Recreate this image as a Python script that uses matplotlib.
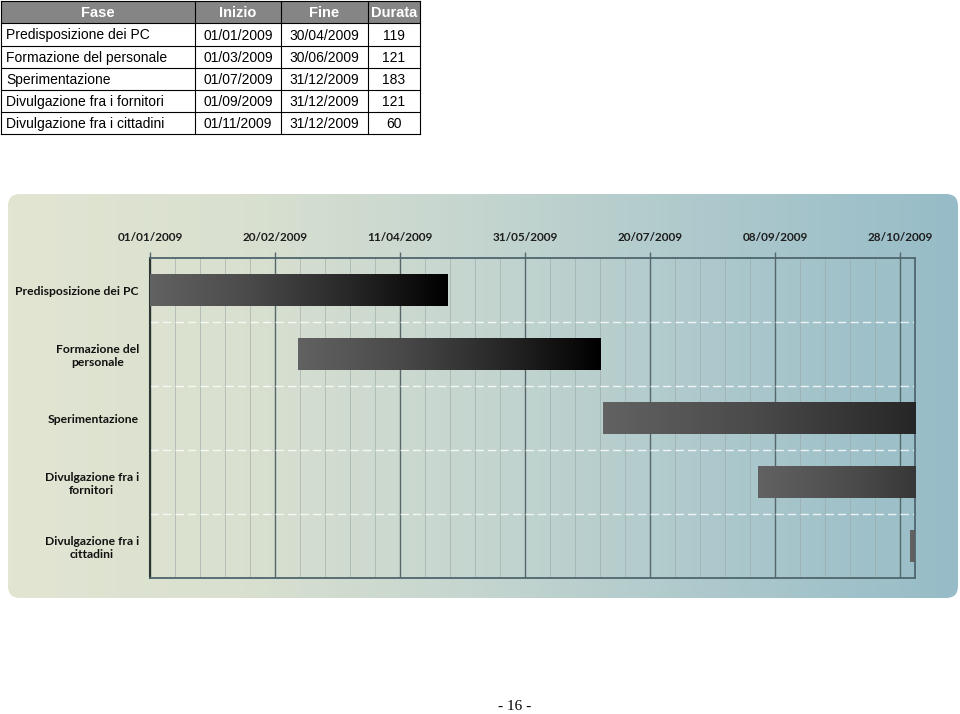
import datetime as dt
import numpy as np
import matplotlib.pyplot as plt
import matplotlib.dates as mdates
from matplotlib.patches import FancyBboxPatch
from matplotlib.colors import LinearSegmentedColormap

# dati della tabella
fasi = ['Predisposizione dei PC', 'Formazione del personale', 'Sperimentazione',
        'Divulgazione fra i fornitori', 'Divulgazione fra i cittadini']
inizio = ['01/01/2009', '01/03/2009', '01/07/2009', '01/09/2009', '01/11/2009']
fine = ['30/04/2009', '30/06/2009', '31/12/2009', '31/12/2009', '31/12/2009']
durata = [119, 121, 183, 121, 60]
intestazione = ['Fase', 'Inizio', 'Fine', 'Durata']

# etichette del gantt (a capo come in excel)
etichette = ['Predisposizione dei PC', 'Formazione del\npersonale', 'Sperimentazione',
             'Divulgazione fra i\nfornitori', 'Divulgazione fra i\ncittadini']
tick_date = ['01/01/2009', '20/02/2009', '11/04/2009', '31/05/2009',
             '20/07/2009', '08/09/2009', '28/10/2009']
asse_inizio = '01/01/2009'
asse_fine = '03/11/2009'
pagina = '- 16 -'


def d(s):
    return mdates.date2num(dt.datetime.strptime(s, '%d/%m/%Y'))


fig = plt.figure(figsize=(9.6, 7.14), dpi=100)

# livello pagina in pixel (tabella + sfondo del grafico)
page = fig.add_axes([0, 0, 1, 1], zorder=0)
page.set_xlim(0, 960)
page.set_ylim(714, 0)
page.axis('off')

# tabella
col_x = [0.5, 195, 281, 368, 420]
row_y = [0.5, 23, 46, 68, 90, 112, 134]
page.add_patch(plt.Rectangle((col_x[0], row_y[0]), col_x[-1] - col_x[0], row_y[1] - row_y[0],
                             facecolor='#858585', edgecolor='none'))
for x in col_x:
    page.plot([x, x], [row_y[0], row_y[-1]], color='black', lw=0.8)
for y in row_y:
    page.plot([col_x[0], col_x[-1]], [y, y], color='black', lw=0.8)
for j, h in enumerate(intestazione):
    page.text((col_x[j] + col_x[j + 1]) / 2, (row_y[0] + row_y[1]) / 2 + 1, h,
              ha='center', va='center', color='white', fontsize=10.5,
              fontweight='bold', family='Liberation Sans')
for i in range(len(fasi)):
    yc = (row_y[i + 1] + row_y[i + 2]) / 2 + 1
    page.text(col_x[0] + 6, yc, fasi[i], ha='left', va='center', fontsize=10,
              family='Liberation Sans')
    for j, v in enumerate([inizio[i], fine[i], str(durata[i])]):
        page.text((col_x[j + 1] + col_x[j + 2]) / 2, yc, v, ha='center', va='center',
                  fontsize=10, family='Liberation Sans')

# sfondo sfumato arrotondato
panel = FancyBboxPatch((8, 194), 950, 404, boxstyle='round,pad=0,rounding_size=12',
                       facecolor='none', edgecolor='none')
page.add_patch(panel)
bg_cmap = LinearSegmentedColormap.from_list(
    'sfondo', ['#e2e5d2', '#d9e0cf', '#c4d5cf', '#acc8cc', '#97bcc7'])
bg = page.imshow(np.linspace(0, 1, 256).reshape(1, -1), cmap=bg_cmap,
                 extent=(8, 958, 598, 194), aspect='auto', zorder=0)
bg.set_clip_path(panel)
page.set_xlim(0, 960)
page.set_ylim(714, 0)

page.text(515, 706, pagina, ha='center', va='center', fontsize=11,
          family='Liberation Serif')

# gantt
ax = fig.add_axes([150 / 960, 1 - 578 / 714, 765 / 960, 320 / 714], zorder=1)
ax.set_facecolor('none')

x0 = d(asse_inizio)
x1 = d(asse_fine)
ypos = np.arange(len(fasi))
starts = [d(s) for s in inizio]

bars = ax.barh(ypos, durata, left=starts, height=0.5, facecolor='none', edgecolor='none')
bar_cmap = LinearSegmentedColormap.from_list('barra', ['#626262', '#4a4a4a', '#282828', '#000000'])
grad = np.linspace(0, 1, 256).reshape(1, -1)
for b in bars:
    bx, by, bw, bh = b.get_x(), b.get_y(), b.get_width(), b.get_height()
    ax.imshow(grad, cmap=bar_cmap, extent=(bx, bx + bw, by + bh, by),
              aspect='auto', zorder=3)

ax.set_xlim(x0, x1)
ax.set_ylim(len(fasi) - 0.5, -0.5)
ax.set_aspect('auto')

ax.xaxis.tick_top()
ax.set_xticks([d(t) for t in tick_date])
ax.set_xticklabels(tick_date)
ax.set_xticks(np.arange(x0, x1, 10), minor=True)
ax.tick_params(axis='x', which='major', length=4, width=1, color='#56686c', pad=7,
               labelsize=8.5, labelcolor='#1e1e1e')
ax.tick_params(axis='x', which='minor', length=0)
for lab in ax.get_xticklabels():
    lab.set_family('Lato')
    lab.set_fontweight('bold')

ax.grid(axis='x', which='major', color='#56686c', lw=1)
ax.grid(axis='x', which='minor', color='#9aa8a6', lw=0.7, alpha=0.6)
ax.set_axisbelow(True)
for y in np.arange(0.5, len(fasi) - 0.5, 1):
    ax.axhline(y, color='white', lw=1, ls=(0, (6, 3)), alpha=0.8, zorder=1)

ax.set_yticks(ypos)
ax.set_yticklabels(etichette, family='Lato', fontweight='bold', fontsize=8.7,
                   color='#111111', multialignment='center')
ax.tick_params(axis='y', length=0, pad=8)

for side in ['top', 'right', 'bottom']:
    ax.spines[side].set_color('#4f666d')
    ax.spines[side].set_linewidth(1.3)
ax.spines['left'].set_color('#2c3434')
ax.spines['left'].set_linewidth(1.5)

fig.savefig('out.png', dpi=100)
